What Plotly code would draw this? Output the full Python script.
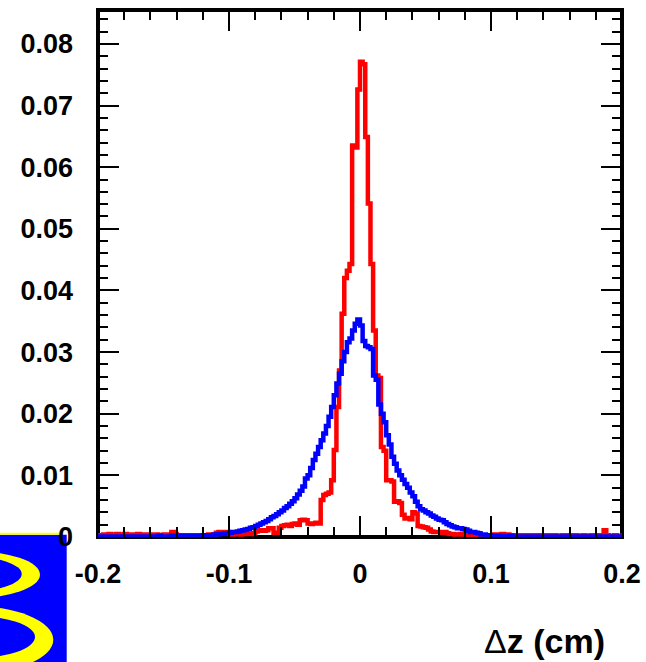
import numpy as np
import plotly.graph_objects as go

# ---- data: 200 bins of width 0.002 between -0.2 and 0.2 ----
x_min, x_max, n_bins = -0.2, 0.2, 200

red_counts = [
    0.0002, 0.0003, 0.0004, 0.0004, 0.0005, 0.0004, 0.0004, 0.0005, 0.0004, 0.0004,
    0.0005, 0.0004, 0.0004, 0.0003, 0.0004, 0.0005, 0.0004, 0.0004, 0.0003, 0.0004,
    0.0004, 0.0003, 0.0004, 0.0003, 0.0003, 0.0004, 0.0003, 0.0004, 0.0008, 0.0005,
    0.0003, 0.0003, 0.0002, 0.0003, 0.0003, 0.0002, 0.0003, 0.0003, 0.0003, 0.0002,
    0.0003, 0.0003, 0.0004, 0.0003, 0.0004, 0.0007, 0.0008, 0.0008, 0.0007, 0.0008,
    0.0005, 0.0004, 0.0005, 0.0005, 0.0004, 0.0005, 0.0006, 0.0005, 0.0005, 0.0006,
    0.0009, 0.0010, 0.0011, 0.0010, 0.0011, 0.0014, 0.0014, 0.0007, 0.0007, 0.0015,
    0.0018, 0.0019, 0.0020, 0.0018, 0.0021, 0.0022, 0.0020, 0.0027, 0.0028, 0.0027,
    0.0022, 0.0021, 0.0022, 0.0023, 0.0022, 0.0060, 0.0068, 0.0070, 0.0072, 0.0092,
    0.0141, 0.0211, 0.0270, 0.0362, 0.0420, 0.0432, 0.0443, 0.0635, 0.0632, 0.0726,
    0.0771, 0.0767, 0.0649, 0.0541, 0.0443, 0.0335, 0.0262, 0.0258, 0.0146, 0.0140,
    0.0092, 0.0092, 0.0090, 0.0057, 0.0058, 0.0055, 0.0036, 0.0030, 0.0031, 0.0029,
    0.0040, 0.0038, 0.0018, 0.0017, 0.0016, 0.0015, 0.0012, 0.0009, 0.0008, 0.0008,
    0.0008, 0.0007, 0.0008, 0.0006, 0.0005, 0.0005, 0.0004, 0.0004, 0.0005, 0.0004,
    0.0004, 0.0003, 0.0004, 0.0003, 0.0003, 0.0004, 0.0003, 0.0003, 0.0002, 0.0003,
    0.0003, 0.0004, 0.0003, 0.0004, 0.0005, 0.0004, 0.0004, 0.0003, 0.0003, 0.0003,
    0.0003, 0.0002, 0.0003, 0.0003, 0.0002, 0.0003, 0.0003, 0.0002, 0.0003, 0.0003,
    0.0002, 0.0003, 0.0003, 0.0002, 0.0003, 0.0002, 0.0002, 0.0003, 0.0002, 0.0003,
    0.0003, 0.0002, 0.0003, 0.0002, 0.0002, 0.0003, 0.0002, 0.0002, 0.0003, 0.0002,
    0.0002, 0.0003, 0.0003, 0.0011, 0.0003, 0.0002, 0.0002, 0.0003, 0.0002, 0.0002,
]

blue_counts = [
    0.0001, 0.0000, 0.0001, 0.0001, 0.0000, 0.0001, 0.0001, 0.0001, 0.0000, 0.0001,
    0.0001, 0.0001, 0.0000, 0.0001, 0.0001, 0.0001, 0.0001, 0.0000, 0.0001, 0.0001,
    0.0001, 0.0001, 0.0001, 0.0002, 0.0001, 0.0001, 0.0001, 0.0001, 0.0002, 0.0001,
    0.0001, 0.0002, 0.0001, 0.0002, 0.0002, 0.0001, 0.0002, 0.0002, 0.0002, 0.0002,
    0.0003, 0.0002, 0.0003, 0.0003, 0.0004, 0.0004, 0.0005, 0.0005, 0.0006, 0.0006,
    0.0007, 0.0008, 0.0008, 0.0009, 0.0010, 0.0011, 0.0012, 0.0013, 0.0015, 0.0016,
    0.0018, 0.0020, 0.0022, 0.0024, 0.0026, 0.0029, 0.0032, 0.0034, 0.0037, 0.0040,
    0.0043, 0.0047, 0.0050, 0.0054, 0.0058, 0.0063, 0.0069, 0.0075, 0.0082, 0.0095,
    0.0100, 0.0112, 0.0125, 0.0135, 0.0146, 0.0157, 0.0168, 0.0180, 0.0195, 0.0211,
    0.0230, 0.0249, 0.0265, 0.0285, 0.0300, 0.0316, 0.0322, 0.0335, 0.0346, 0.0353,
    0.0343, 0.0318, 0.0310, 0.0308, 0.0305, 0.0262, 0.0255, 0.0215, 0.0200, 0.0186,
    0.0165, 0.0150, 0.0130, 0.0119, 0.0108, 0.0100, 0.0093, 0.0086, 0.0080, 0.0072,
    0.0066, 0.0057, 0.0050, 0.0045, 0.0043, 0.0040, 0.0038, 0.0035, 0.0033, 0.0030,
    0.0028, 0.0027, 0.0024, 0.0021, 0.0019, 0.0017, 0.0016, 0.0014, 0.0014, 0.0013,
    0.0012, 0.0010, 0.0008, 0.0008, 0.0007, 0.0006, 0.0004, 0.0004, 0.0003, 0.0003,
    0.0002, 0.0002, 0.0002, 0.0001, 0.0002, 0.0001, 0.0001, 0.0002, 0.0001, 0.0001,
    0.0001, 0.0001, 0.0001, 0.0000, 0.0001, 0.0001, 0.0001, 0.0001, 0.0000, 0.0001,
    0.0001, 0.0001, 0.0001, 0.0001, 0.0000, 0.0001, 0.0001, 0.0001, 0.0001, 0.0001,
    0.0000, 0.0001, 0.0001, 0.0001, 0.0001, 0.0000, 0.0001, 0.0001, 0.0001, 0.0001,
    0.0001, 0.0001, 0.0000, 0.0001, 0.0001, 0.0001, 0.0001, 0.0001, 0.0001, 0.0001,
]

x_tick_vals = [-0.2, -0.1, 0.0, 0.1, 0.2]
x_tick_labels = ["-0.2", "-0.1", "0", "0.1", "0.2"]
y_tick_vals = [0.0, 0.01, 0.02, 0.03, 0.04, 0.05, 0.06, 0.07, 0.08]
y_tick_labels = ["0", "0.01", "0.02", "0.03", "0.04", "0.05", "0.06", "0.07", "0.08"]
x_title = "Δ<b>z (cm)</b>"

# ---- figure geometry ----
W, H = 646, 662
ML, MR, MT, MB = 98, 24, 10, 125
PW, PH = W - ML - MR, H - MT - MB


def px(x):
    return (x - ML) / PW


def py(y):
    return (MT + PH - y) / PH


edges = np.linspace(x_min, x_max, n_bins + 1)


def step_xy(counts):
    return list(edges), list(counts) + [counts[-1]]


fig = go.Figure()
for counts, color in [(red_counts, "#ff0000"), (blue_counts, "#0000ff")]:
    xs, ys = step_xy(counts)
    fig.add_trace(go.Scatter(x=xs, y=ys, mode="lines", line_shape="hv",
                             line=dict(color=color, width=4.5), showlegend=False,
                             hoverinfo="skip"))

tick_font = dict(family="Liberation Sans, Arial, sans-serif", size=27,
                 color="black", weight="bold")

fig.update_xaxes(range=[x_min, x_max], tickmode="array", tickvals=x_tick_vals,
                 ticktext=x_tick_labels, ticks="inside", ticklen=21, tickwidth=2,
                 tickcolor="black", mirror="allticks", showline=False,
                 showgrid=False, zeroline=False, tickfont=tick_font,
                 ticklabelstandoff=18, automargin=False,
                 minor=dict(tickmode="linear", tick0=-0.2, dtick=0.02,
                            ticks="inside", ticklen=10, tickwidth=2,
                            tickcolor="black", showgrid=False))
fig.update_yaxes(range=[0, 0.0855], tickmode="array", tickvals=y_tick_vals,
                 ticktext=y_tick_labels, ticks="inside", ticklen=21, tickwidth=2,
                 tickcolor="black", mirror="allticks", showline=False,
                 showgrid=False, zeroline=False, tickfont=tick_font,
                 ticklabelstandoff=24, automargin=False,
                 minor=dict(tickmode="linear", tick0=0, dtick=0.002,
                            ticks="inside", ticklen=10, tickwidth=2,
                            tickcolor="black", showgrid=False))

shapes = []
# frame
shapes.append(dict(type="rect", xref="paper", yref="paper", x0=0, x1=1, y0=0, y1=1,
                   line=dict(color="black", width=4), fillcolor="rgba(0,0,0,0)",
                   layer="below"))


# logo (bottom-left)
def prect(x0, y0, x1, y1, color):
    return dict(type="rect", xref="paper", yref="paper", x0=px(x0), x1=px(x1),
                y0=py(y1), y1=py(y0), fillcolor=color, line=dict(width=0),
                layer="below")


def pell(x0, y0, x1, y1, color):
    return dict(type="circle", xref="paper", yref="paper", x0=px(x0), x1=px(x1),
                y0=py(y1), y1=py(y0), fillcolor=color, line=dict(width=0),
                layer="below")


shapes.append(prect(-2, 534.8, 66.7, 670, "#0000ff"))
shapes.append(prect(-2, 532.8, 62, 534.8, "#ffff00"))
shapes.append(pell(-100, 550.9, 40, 598.5, "#ffff00"))
shapes.append(pell(-81.7, 556.6, 21.7, 591.4, "#0000ff"))
shapes.append(pell(-113.3, 605.7, 53.3, 673.7, "#ffff00"))
shapes.append(pell(-95, 615.6, 35, 658.4, "#0000ff"))

fig.update_layout(
    template="none",
    width=W, height=H,
    margin=dict(l=ML, r=MR, t=MT, b=MB, pad=0, autoexpand=False),
    paper_bgcolor="white", plot_bgcolor="rgba(0,0,0,0)",
    shapes=shapes,
    annotations=[dict(text=x_title, xref="paper", yref="paper", x=px(607), y=py(641),
                      xanchor="right", yanchor="middle", showarrow=False,
                      font=dict(family="Liberation Sans, Arial, sans-serif",
                                size=34, color="black"))],
)

fig.write_html("out.html",
               config={"displayModeBar": False, "staticPlot": True},
               post_script="document.body.style.margin='0';"
                           "document.body.style.overflow='hidden';")
